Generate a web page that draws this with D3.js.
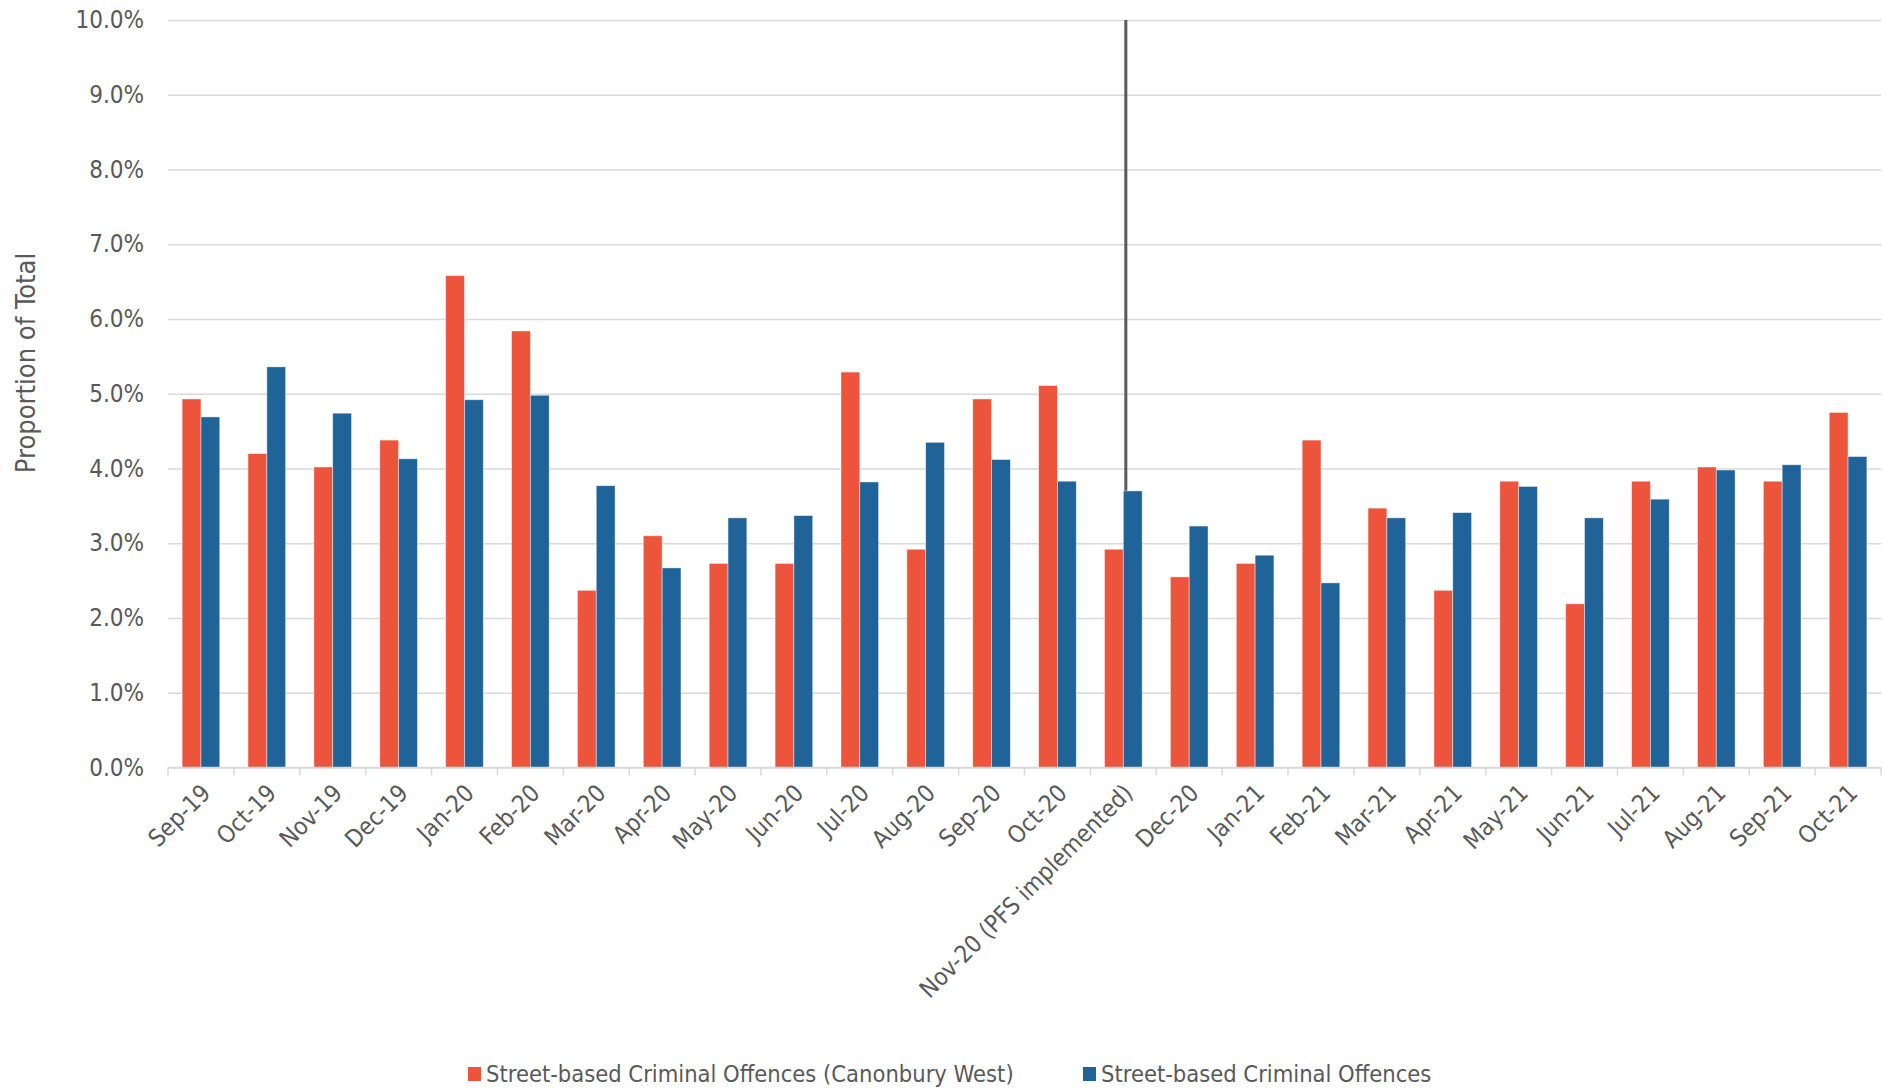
<!DOCTYPE html>
<html>
<head>
<meta charset="utf-8">
<script src="https://cdn.jsdelivr.net/npm/d3@7"></script>
<style>
  html, body { margin: 0; padding: 0; background: #fff; }
  svg { display: block; }
  text { font-family: "DejaVu Sans Condensed", "DejaVu Sans", sans-serif; fill: #595959; }
</style>
</head>
<body>
<svg id="chart" width="1883" height="1091"></svg>
<script>
// Monthly categories (Nov-20 marks when PFS was implemented)
const months = ["Sep-19","Oct-19","Nov-19","Dec-19","Jan-20","Feb-20","Mar-20","Apr-20","May-20","Jun-20",
  "Jul-20","Aug-20","Sep-20","Oct-20","Nov-20 (PFS implemented)","Dec-20","Jan-21","Feb-21","Mar-21",
  "Apr-21","May-21","Jun-21","Jul-21","Aug-21","Sep-21","Oct-21"];

// Share of total street-based offences per month, in percent
const canonburyWest = [4.93,4.20,4.02,4.38,6.58,5.84,2.37,3.10,2.73,2.73,5.29,2.92,4.93,5.11,2.92,
  2.55,2.73,4.38,3.47,2.37,3.83,2.19,3.83,4.02,3.83,4.75];
const allAreas = [4.69,5.36,4.74,4.13,4.92,4.98,3.77,2.67,3.34,3.37,3.82,4.35,4.12,3.83,3.70,
  3.23,2.84,2.47,3.34,3.41,3.76,3.34,3.59,3.98,4.05,4.16];

const seriesNames = ["Street-based Criminal Offences (Canonbury West)", "Street-based Criminal Offences"];
const seriesColors = ["#EC553B", "#1F6399"];
const yTicks = [0,1,2,3,4,5,6,7,8,9,10];
const markerMonth = "Nov-20 (PFS implemented)";

const svg = d3.select("#chart");
const plotLeft = 168, plotRight = 1881, plotTop = 20, plotBottom = 767.5;
const fontStack = "'DejaVu Sans Condensed', 'DejaVu Sans', sans-serif";

const x = d3.scaleBand().domain(months).range([plotLeft, plotRight])
  .paddingInner(1.5 / 3.5).paddingOuter(0.75 / 3.5);
const xs = d3.scaleBand().domain([0, 1]).range([0, x.bandwidth()]);
const y = d3.scaleLinear().domain([0, 10]).range([plotBottom, plotTop]);

// Horizontal gridlines with percentage labels
const yAxis = svg.append("g")
  .attr("transform", `translate(${plotLeft},0)`)
  .call(d3.axisLeft(y).tickValues(yTicks).tickSize(-(plotRight - plotLeft)).tickPadding(24)
    .tickFormat(d => d.toFixed(1) + "%"));
yAxis.select(".domain").remove();
yAxis.selectAll(".tick line").attr("stroke", "#D9D9D9").attr("stroke-width", 1.5);
yAxis.selectAll(".tick text").attr("font-size", 24).attr("fill", "#595959")
  .style("font-family", fontStack);

// Y-axis title
svg.append("text")
  .attr("transform", `translate(27,363) rotate(-90)`)
  .attr("text-anchor", "middle")
  .attr("dominant-baseline", "middle")
  .attr("font-size", 27)
  .text("Proportion of Total");

// Vertical marker for the intervention month
svg.append("line")
  .attr("x1", x(markerMonth) + x.bandwidth() / 2 + 2.5)
  .attr("x2", x(markerMonth) + x.bandwidth() / 2 + 2.5)
  .attr("y1", y(10)).attr("y2", y(0))
  .attr("stroke", "#595959").attr("stroke-width", 3);

// Grouped bars
const seriesData = [canonburyWest, allAreas];
seriesData.forEach((vals, si) => {
  svg.append("g").selectAll("rect").data(vals).join("rect")
    .attr("x", (d, i) => x(months[i]) + xs(si))
    .attr("y", d => y(d))
    .attr("width", xs.bandwidth())
    .attr("height", d => y(0) - y(d))
    .attr("fill", seriesColors[si])
    .attr("stroke", "rgba(255,255,255,0.55)")
    .attr("stroke-width", 0.8);
});

// Category axis with ticks at category boundaries
const step = x.step();
const offset = (step - x.bandwidth()) / 2;
const xAxis = svg.append("g");
xAxis.append("line")
  .attr("x1", plotLeft).attr("x2", plotRight).attr("y1", y(0)).attr("y2", y(0))
  .attr("stroke", "#D9D9D9").attr("stroke-width", 1.5);
const bounds = months.map(m => x(m) - offset).concat([plotRight]);
xAxis.selectAll("line.tk").data(bounds).join("line").attr("class", "tk")
  .attr("x1", d => d).attr("x2", d => d)
  .attr("y1", y(0)).attr("y2", y(0) + 8)
  .attr("stroke", "#D9D9D9").attr("stroke-width", 1.5);
xAxis.selectAll("text").data(months).join("text")
  .attr("transform", m => `translate(${x(m) + x.bandwidth() / 2 + 6},${y(0) + 22}) rotate(-45)`)
  .attr("text-anchor", "end")
  .attr("dominant-baseline", "middle")
  .attr("font-size", 24)
  .text(m => m);

// Legend
const legend = svg.append("g").attr("transform", "translate(468,1074)");
const entryX = [0, 615];
seriesNames.forEach((name, i) => {
  const g = legend.append("g").attr("transform", `translate(${entryX[i]},0)`);
  g.append("rect").attr("x", 0).attr("y", -7).attr("width", 13).attr("height", 14)
    .attr("fill", seriesColors[i]);
  g.append("text").attr("x", 18).attr("y", 1).attr("dominant-baseline", "middle")
    .attr("font-size", 23.5).text(name);
});
</script>
</body>
</html>
